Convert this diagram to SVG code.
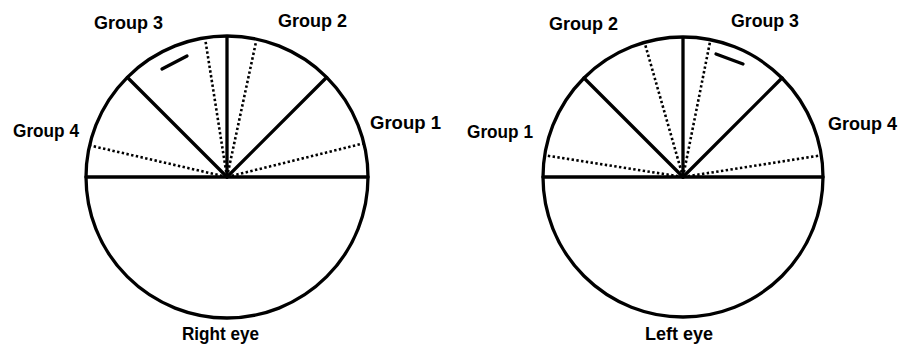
<svg xmlns="http://www.w3.org/2000/svg" width="904" height="349" viewBox="0 0 904 349">
  <style>
    .rim { fill: none; stroke: #000; stroke-width: 3.3; }
    .solid { stroke: #000; stroke-width: 3.3; stroke-linecap: round; }
    .dot { stroke: #000; stroke-width: 2.6; stroke-dasharray: 2.4 2.4; }
    .lbl { font-family: "Liberation Sans", Arial, sans-serif; font-weight: bold; font-size: 18px; fill: #000; }
  </style>
  <rect width="904" height="349" fill="#fff"/>

  <!-- Right eye chart -->
  <g id="right-eye">
    <circle class="rim" cx="227" cy="177" r="141"/>
    <line class="solid" x1="86" y1="177" x2="368" y2="177"/>
    <line class="solid" x1="227" y1="177" x2="227" y2="37"/>
    <line class="solid" x1="227" y1="177" x2="127.5" y2="77.5"/>
    <line class="solid" x1="227" y1="177" x2="326.5" y2="77.5"/>
    <line class="dot" x1="227" y1="177" x2="90" y2="145.5"/>
    <line class="dot" x1="227" y1="177" x2="363" y2="143.5"/>
    <line class="dot" x1="227" y1="177" x2="205.5" y2="41"/>
    <line class="dot" x1="227" y1="177" x2="256" y2="42"/>
    <line class="solid" x1="162" y1="69" x2="187" y2="56"/>
  </g>

  <!-- Left eye chart -->
  <g id="left-eye">
    <circle class="rim" cx="683" cy="177" r="140"/>
    <line class="solid" x1="543" y1="177" x2="823" y2="177"/>
    <line class="solid" x1="683" y1="177" x2="683" y2="38"/>
    <line class="solid" x1="683" y1="177" x2="584" y2="78"/>
    <line class="solid" x1="683" y1="177" x2="782" y2="78"/>
    <line class="dot" x1="683" y1="177" x2="546" y2="155.5"/>
    <line class="dot" x1="683" y1="177" x2="820" y2="155.5"/>
    <line class="dot" x1="683" y1="177" x2="645" y2="44"/>
    <line class="dot" x1="683" y1="177" x2="710" y2="42"/>
    <line class="solid" x1="716" y1="54" x2="743" y2="64"/>
  </g>

  <!-- Labels -->
  <g id="labels-right">
    <text class="lbl" x="94" y="29" textLength="69" lengthAdjust="spacingAndGlyphs">Group 3</text>
    <text class="lbl" x="278" y="27" textLength="69" lengthAdjust="spacingAndGlyphs">Group 2</text>
    <text class="lbl" x="370" y="129" textLength="71" lengthAdjust="spacingAndGlyphs">Group 1</text>
    <text class="lbl" x="13" y="137" textLength="66" lengthAdjust="spacingAndGlyphs">Group 4</text>
    <text class="lbl" x="182" y="340" textLength="77" lengthAdjust="spacingAndGlyphs">Right eye</text>
  </g>
  <g id="labels-left">
    <text class="lbl" x="549" y="30" textLength="69" lengthAdjust="spacingAndGlyphs">Group 2</text>
    <text class="lbl" x="731" y="27" textLength="68" lengthAdjust="spacingAndGlyphs">Group 3</text>
    <text class="lbl" x="467" y="138" textLength="66" lengthAdjust="spacingAndGlyphs">Group 1</text>
    <text class="lbl" x="828" y="130" textLength="69" lengthAdjust="spacingAndGlyphs">Group 4</text>
    <text class="lbl" x="645" y="340" textLength="68" lengthAdjust="spacingAndGlyphs">Left eye</text>
  </g>
</svg>
